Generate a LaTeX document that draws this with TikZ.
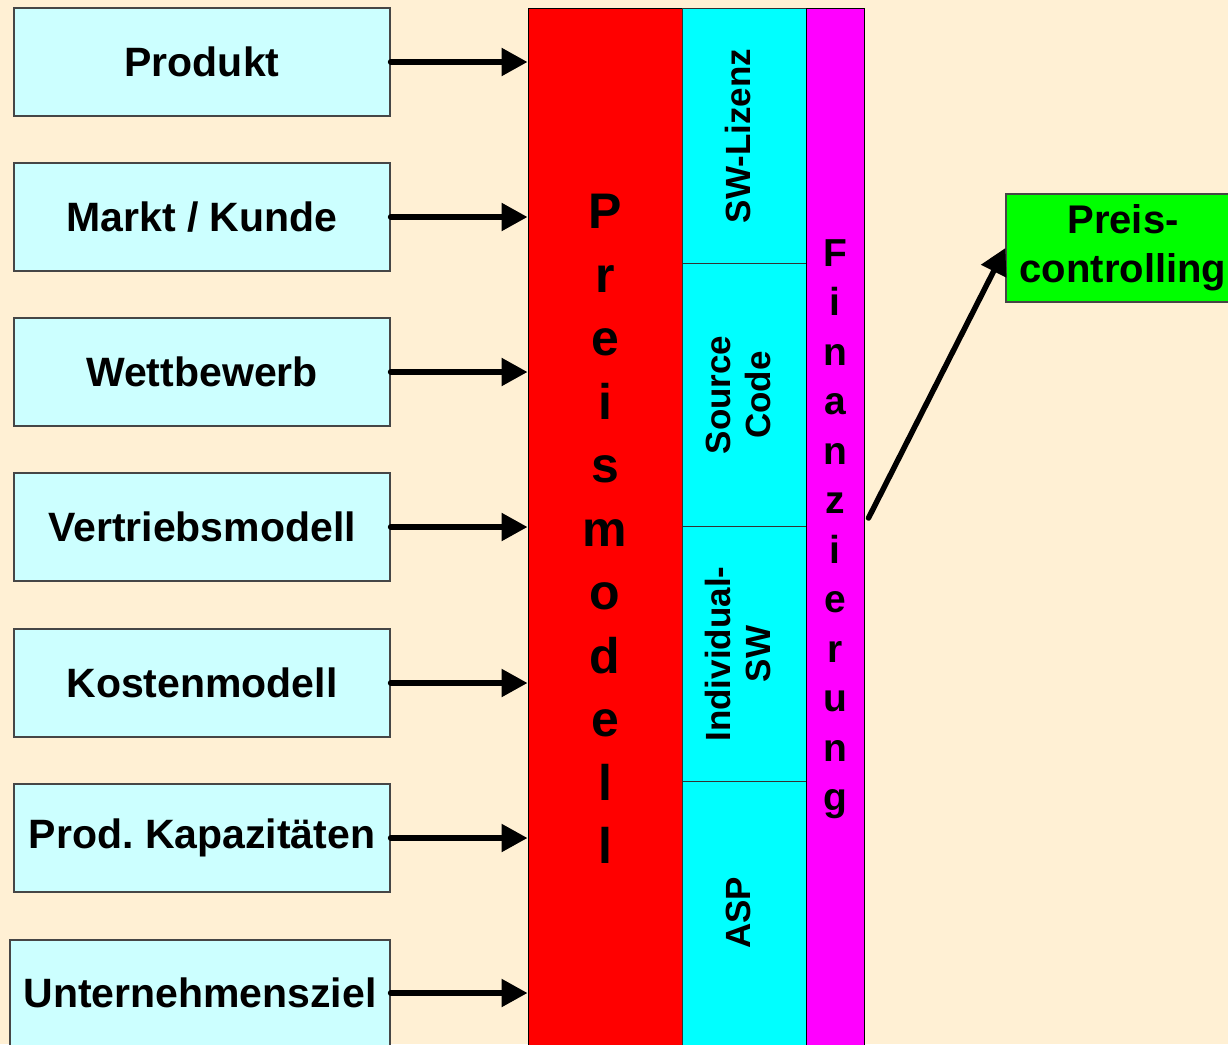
\documentclass[tikz,border=0pt]{standalone}
\usepackage{fontspec}
\setmainfont{Liberation Sans}
\usetikzlibrary{arrows.meta}
\definecolor{paper}{RGB}{255,240,212}
\definecolor{lightcyan}{RGB}{204,255,255}
\definecolor{boxline}{RGB}{70,70,70}
\definecolor{pureRed}{RGB}{255,0,0}
\definecolor{pureCyan}{RGB}{0,255,255}
\definecolor{pureMagenta}{RGB}{255,0,255}
\definecolor{pureGreen}{RGB}{0,255,0}
\begin{document}
\begin{tikzpicture}[x=1pt,y=-1pt,
  inbox/.style={draw=boxline, line width=1.2pt, fill=lightcyan,
    minimum width=376pt, minimum height=108pt, inner sep=0pt,
    font=\bfseries\fontsize{41}{48}\selectfont},
  column/.style={draw=black, line width=1pt, inner sep=0pt, align=center},
  cyseg/.style={draw=black!80, line width=1pt, fill=pureCyan, minimum width=124pt, inner sep=0pt},
  cylabel/.style={rotate=90, align=center, inner sep=0pt,
    font=\bfseries\fontsize{35}{40}\selectfont},
  feed/.style={line width=5.5pt, line cap=round, -{Triangle[length=26pt,width=27pt]}}]
\useasboundingbox (0,0) rectangle (1228,1044);
\clip (0,0) rectangle (1228,1044);
\fill[paper] (0,0) rectangle (1228,1044);

% influencing factors
\node[inbox] (b1) at (202,62)  {Produkt};
\node[inbox] (b2) at (202,217) {Markt / Kunde};
\node[inbox] (b3) at (202,372) {Wettbewerb};
\node[inbox] (b4) at (202,527) {Vertriebsmodell};
\node[inbox] (b5) at (202,683) {Kostenmodell};
\node[inbox] (b6) at (202,838) {Prod.\ Kapazitäten};
\node[inbox, minimum width=380pt, minimum height=106pt] (b7) at (200,993) {Unternehmensziel};

% price model column
\node[column, fill=pureRed, minimum width=154pt, minimum height=1042pt,
  font=\bfseries\fontsize{50}{63.5}\selectfont] (pm) at (605,529)
  {P\\r\\e\\i\\s\\m\\o\\d\\e\\l\\l};

% licence types
\node[cyseg, minimum height=255pt] (s1) at (744,135.5) {};
\node[cyseg, minimum height=263pt] (s2) at (744,394.5) {};
\node[cyseg, minimum height=255pt] (s3) at (744,653.5) {};
\node[cyseg, minimum height=269pt] (s4) at (744,915.5) {};
\node[cylabel] (l1) at (738,136) {SW-Lizenz};
\node[cylabel] (l2) at (738,395) {Source\\Code};
\node[cylabel] (l3) at (738,654) {Individual-\\SW};
\node[cylabel] (l4) at (738,913) {ASP};

% financing column
\node[column, fill=pureMagenta, minimum width=58pt, minimum height=1042pt,
  font=\bfseries\fontsize{39}{49.5}\selectfont] (fin) at (835,529)
  {F\\i\\n\\a\\n\\z\\i\\e\\r\\u\\n\\g};

% price controlling
\node[draw=boxline, line width=1.2pt, fill=pureGreen, minimum width=234pt, minimum height=108pt,
  inner sep=0pt, align=center, font=\bfseries\fontsize{40}{49}\selectfont] (pc) at (1123,248)
  {Preis-\\controlling};

% connectors
\foreach \i in {1,...,7}
  \draw[feed] (b\i.east) -- (b\i.east -| pm.west);
\draw[feed] ([xshift=4pt,yshift=11pt]fin.east) -- (pc.west);
\end{tikzpicture}
\end{document}
